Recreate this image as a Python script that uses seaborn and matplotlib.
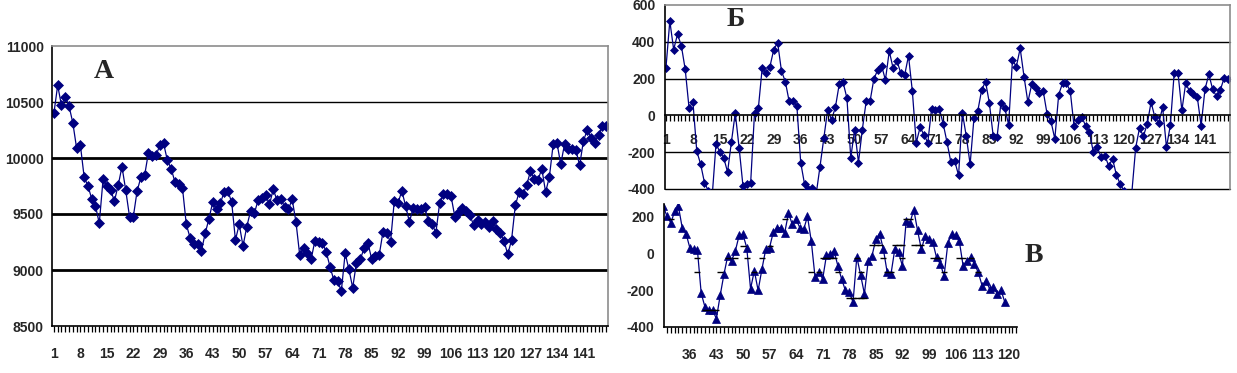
import matplotlib
matplotlib.use("Agg")
import matplotlib.pyplot as plt
import seaborn as sns
import pandas as pd
from matplotlib.ticker import FixedLocator, FuncFormatter

# ---------------- data ----------------
a_values = [10399, 10649, 10470, 10548, 10464, 10315, 10089, 10116, 9830, 9750,
            9637, 9571, 9417, 9810, 9750, 9714, 9616, 9756, 9923, 9711,
            9476, 9476, 9705, 9827, 9848, 10048, 10018, 10024, 10113, 10131,
            9979, 9905, 9786, 9765, 9732, 9408, 9289, 9229, 9229, 9170,
            9327, 9458, 9607, 9542, 9595, 9696, 9702, 9607, 9268, 9408,
            9214, 9387, 9527, 9506, 9625, 9646, 9667, 9586, 9720, 9622,
            9637, 9563, 9542, 9631, 9429, 9131, 9199, 9155, 9095, 9259,
            9250, 9244, 9161, 9030, 8911, 8902, 8813, 9149, 9006, 8842,
            9066, 9095, 9193, 9244, 9101, 9125, 9131, 9339, 9327, 9250,
            9616, 9601, 9705, 9571, 9429, 9557, 9548, 9548, 9566, 9438,
            9408, 9333, 9601, 9676, 9676, 9661, 9476, 9518, 9557, 9527,
            9488, 9399, 9447, 9408, 9429, 9384, 9438, 9369, 9327, 9259,
            9140, 9268, 9577, 9696, 9676, 9756, 9884, 9815, 9804, 9905,
            9696, 9830, 10122, 10137, 9943, 10122, 10083, 10077, 10071, 9935,
            10152, 10250, 10182, 10137, 10202, 10286, 10286]

b_values = [259, 513, 358, 441, 378, 250, 40, 74, -194, -265,
            -365, -410, -440, -155, -198, -230, -308, -144, 13, -176,
            -383, -374, -365, 13, 40, 259, 229, 265, 358, 396,
            241, 184, 76, 76, 52, -257, -374, -401, -392, -430,
            -279, -122, 31, -23, 43, 169, 180, 94, -230, -77,
            -256, -77, 76, 76, 198, 247, 270, 193, 349, 256,
            297, 229, 220, 324, 130, -149, -65, -104, -149, 36,
            31, 36, -45, -146, -254, -248, -326, 13, -113, -266,
            -14, 25, 139, 184, 67, -113, -117, 67, 40, -50,
            301, 265, 364, 211, 72, 169, 151, 121, 130, 7,
            -32, -128, 112, 175, 175, 133, -59, -27, -9, -56,
            -92, -200, -173, -225, -218, -275, -236, -324, -374, -410,
            -460, -420, -176, -68, -113, -47, 72, -11, -41, 43,
            -173, -54, 229, 229, 27, 176, 130, 115, 100, -56,
            142, 223, 142, 103, 139, 205, 196]

c_start = 29
c_values = [255, 200, 165, 227, 254, 138, 107, 30, 21, 18,
            -217, -292, -310, -310, -354, -229, -113, -14, -41, 13,
            97, 102, 30, -193, -95, -202, -86, 21, 30, 115,
            138, 138, 111, 218, 156, 183, 138, 129, 200, 66,
            -131, -100, -140, -11, -5, 13, -68, -140, -202, -211,
            -265, -20, -118, -220, -41, -14, 75, 107, 21, -104,
            -113, 21, 4, -68, 174, 165, 236, 124, 21, 93,
            75, 61, -23, -59, -122, 57, 102, 97, 66, -68,
            -41, -23, -59, -104, -175, -149, -193, -184, -220, -202,
            -265]

dash_x = [31, 38, 38, 40, 41, 42, 43, 44, 46, 48, 50, 51, 53, 55, 57, 61, 68,
          70, 71, 72, 73, 74, 75, 78, 79, 80, 81, 82, 80, 81, 84, 85, 86, 87,
          88, 89, 90, 91, 92, 92, 93, 94, 95, 96, 97, 100, 101, 102, 103,
          107, 108, 110, 112]
dash_y = [188, -27, -100, -310, -310, -310, -310, -100, -27, -27, 39, -27, -100, -27, 39, 188, -100,
          -100, -27, -27, -27, -27, -100, -242, -242, -242, -242, -242, -27, -100, 43, 43, 43, -27,
          -100, -100, 43, 43, 43, -27, 188, 188, 43, 43, 43, -27, -27, -27, -100,
          -27, -27, -27, -100]

a_yticks = [8500, 9000, 9500, 10000, 10500, 11000]
b_yticks = [-400, -200, 0, 200, 400, 600]
c_yticks = [-400, -200, 0, 200]
panel_letters = ["А", "Б", "В"]

# ---------------- style ----------------
sns.set_style("white")
plt.rcParams["font.family"] = ["Liberation Sans", "DejaVu Sans"]
plt.rcParams["font.weight"] = "bold"
plt.rcParams["axes.unicode_minus"] = False

NAVY = "#000080"
W, H = 1237, 373
fig = plt.figure(figsize=(W / 100, H / 100), dpi=100)
LS = 10


def every7(start):
    return FuncFormatter(lambda v, p: f"{int(round(v))}" if (int(round(v)) - start) % 7 == 0 else "")


# ---------------- panel A ----------------
axA = fig.add_axes([52 / W, 1 - 326 / H, 556 / W, 280 / H])
dfA = pd.DataFrame({"t": list(range(1, len(a_values) + 1)), "v": a_values})
sns.lineplot(data=dfA, x="t", y="v", ax=axA, color=NAVY, linewidth=0.9,
             marker="D", markersize=4.8, markeredgecolor=NAVY, markeredgewidth=0.5)
axA.set_xlim(0.5, len(a_values) + 0.5)
axA.set_ylim(8500, 11000)
for yv in a_yticks[1:-1]:
    axA.axhline(yv, color="black", lw=1.0 if yv == 10500 else 2.0, zorder=0)
axA.set_yticks(a_yticks)
axA.xaxis.set_major_locator(FixedLocator(dfA["t"].tolist()))
axA.xaxis.set_major_formatter(every7(1))
axA.tick_params(axis="x", bottom=True, direction="out", length=4, width=0.9,
                color="black", pad=11, labelsize=LS)
axA.tick_params(axis="y", left=False, length=0, pad=6, labelsize=LS)
for s in ["left", "bottom"]:
    axA.spines[s].set_color("black")
    axA.spines[s].set_linewidth(1.2)
for s in ["top", "right"]:
    axA.spines[s].set_color("#8c8c8c")
    axA.spines[s].set_linewidth(1.2)
axA.set_xlabel("")
axA.set_ylabel("")

# ---------------- panel B (Б) ----------------
axB = fig.add_axes([665 / W, 1 - 189 / H, 565 / W, 184 / H])
dfB = pd.DataFrame({"t": list(range(1, len(b_values) + 1)), "v": b_values})
sns.lineplot(data=dfB, x="t", y="v", ax=axB, color=NAVY, linewidth=0.9,
             marker="D", markersize=4.0, markeredgecolor=NAVY, markeredgewidth=0.5)
axB.set_xlim(0.75, 147.5)
axB.set_ylim(-400, 600)
for yv in [400, 200, -200, -400]:
    axB.axhline(yv, color="black", lw=1.0, zorder=0, clip_on=False)
axB.set_yticks(b_yticks)
axB.spines["bottom"].set_position(("data", 0))
axB.xaxis.set_major_locator(FixedLocator(dfB["t"].tolist()))
axB.xaxis.set_major_formatter(every7(1))
axB.tick_params(axis="x", bottom=True, direction="out", length=4, width=0.9,
                color="black", pad=9, labelsize=LS)
axB.tick_params(axis="y", left=False, length=0, pad=7, labelsize=LS)
axB.spines["left"].set_color("black")
axB.spines["bottom"].set_color("black")
axB.spines["left"].set_linewidth(1.2)
axB.spines["bottom"].set_linewidth(1.2)
for s in ["top", "right"]:
    axB.spines[s].set_color("#8c8c8c")
    axB.spines[s].set_linewidth(1.2)
axB.set_xlabel("")
axB.set_ylabel("")
axB.patch.set_alpha(0)

# ---------------- panel C (В) ----------------
axC = fig.add_axes([664 / W, 1 - 327 / H, 353 / W, 123 / H])
c_x = list(range(c_start, c_start + len(c_values)))
dfC = pd.DataFrame({"t": c_x, "v": c_values})
sns.lineplot(data=dfC, x="t", y="v", ax=axC, color=NAVY, linewidth=0.9,
             marker="^", markersize=5.5, markeredgecolor=NAVY, markeredgewidth=0.5)
sns.scatterplot(x=dash_x, y=dash_y, ax=axC, marker="_", s=18, color="black",
                linewidth=1.0, zorder=3)
axC.set_xlim(29.2, 122.2)
axC.set_ylim(-400, 267)
axC.set_yticks(c_yticks)
axC.xaxis.set_major_locator(FixedLocator(list(range(29, 123))))
axC.xaxis.set_major_formatter(FuncFormatter(
    lambda v, p: f"{int(round(v))}" if (int(round(v)) - 1) % 7 == 0 and int(round(v)) >= 36 else ""))
axC.tick_params(axis="x", bottom=True, direction="out", length=4, width=0.9,
                color="black", pad=11, labelsize=LS)
axC.tick_params(axis="y", left=False, length=0, pad=7, labelsize=LS)
for s in ["top", "right"]:
    axC.spines[s].set_visible(False)
for s in ["left", "bottom"]:
    axC.spines[s].set_color("black")
    axC.spines[s].set_linewidth(1.2)
axC.set_xlabel("")
axC.set_ylabel("")
axC.patch.set_alpha(0)

# ---------------- panel letters ----------------
for (px, py), letter in zip([(104, 72), (736, 20), (1034, 256)], panel_letters):
    fig.text(px / W, 1 - py / H, letter, ha="center", va="center",
             family=["Liberation Serif", "DejaVu Serif"], weight="bold", fontsize=20)

fig.savefig("out.png", dpi=100)
